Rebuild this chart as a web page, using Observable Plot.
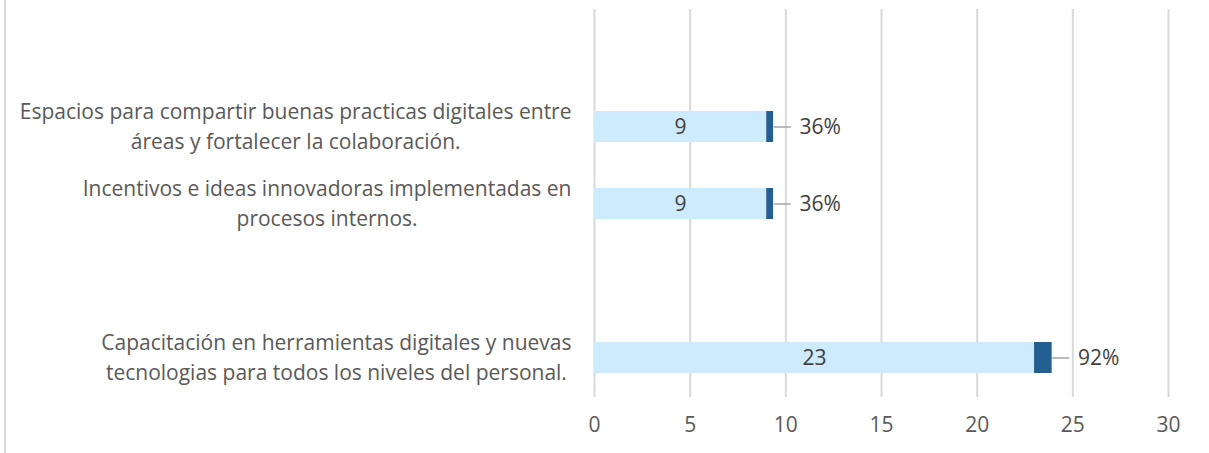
<!DOCTYPE html>
<html><head><meta charset="utf-8">
<script src="https://cdn.jsdelivr.net/npm/d3@7"></script>
<script src="https://cdn.jsdelivr.net/npm/@observablehq/plot@0.6"></script>
<style>
body{margin:0;background:#fff;}
#chart{position:relative;width:1209px;height:453px;}
#chart::before{content:"";position:absolute;left:4px;top:0;width:2px;height:453px;background:#d9d9d9;}
</style></head><body><div id="chart"></div>
<script>
const categories = [
  "",
  "Espacios para compartir buenas practicas digitales entre\náreas y fortalecer la colaboración.",
  "Incentivos e ideas innovadoras implementadas en\nprocesos internos.",
  "",
  "Capacitación en herramientas digitales y nuevas\ntecnologias para todos los niveles del personal."
];
const counts = [null, 9, 9, null, 23];
const shares = [null, 0.36, 0.36, null, 0.92];
const xTicks = [0, 5, 10, 15, 20, 25, 30];

const rows = categories.map((label, i) => ({id: i, label, count: counts[i], share: shares[i]}));
const bars = rows.filter(d => d.count != null);
const labeled = rows.filter(d => d.label !== "");

const LIGHT = "#cdebfd", DARK = "#255e91", TEXT = "#595959";

const svg = Plot.plot({
  width: 1209,
  height: 453,
  marginLeft: 594,
  marginRight: 41,
  marginTop: 9,
  marginBottom: 56,
  style: {fontFamily: "'Open Sans', sans-serif", fontSize: "21px", color: TEXT, background: "transparent"},
  x: {domain: [0, 30]},
  y: {type: "band", domain: rows.map(d => d.id), paddingInner: 0.6, paddingOuter: 0.3, axis: null},
  marks: [
    Plot.gridX(xTicks, {stroke: "#d9d9d9", strokeOpacity: 1, strokeWidth: 2}),
    Plot.barX(bars, {y: "id", x1: 0, x2: "count", fill: LIGHT}),
    Plot.barX(bars, {y: "id", x1: "count", x2: d => d.count + d.share, fill: DARK}),
    Plot.text(bars, {y: "id", x: d => d.count / 2, text: d => String(d.count), fill: "#404040", fontSize: 21}),
    Plot.link(bars, {y1: "id", y2: "id", x1: d => d.count + d.share, x2: d => d.count + d.share + 0.9, stroke: "#a6a6a6", strokeWidth: 1.5}),
    Plot.text(bars, {y: "id", x: d => d.count + d.share + 1.35, text: d => Math.round(d.share * 100) + "%", textAnchor: "start", fill: "#404040", fontSize: 21}),
    Plot.text(labeled, {y: "id", x: 0, text: "label", textAnchor: "end", dx: -23, dy: -3, lineHeight: 1.43, fill: TEXT, fontSize: 21}),
    Plot.axisX(xTicks, {tickSize: 0, tickPadding: 20, label: null, fontSize: 21, fill: TEXT})
  ]
});
document.getElementById("chart").append(svg);
svg.querySelectorAll("text").forEach(t => {
  const spans = [...t.querySelectorAll("tspan")];
  if (spans.length < 2) return;
  const W = Math.max(...spans.map(s => s.getComputedTextLength()));
  t.setAttribute("text-anchor", "middle");
  spans.forEach(s => s.setAttribute("x", -W / 2));
});
</script></body></html>
